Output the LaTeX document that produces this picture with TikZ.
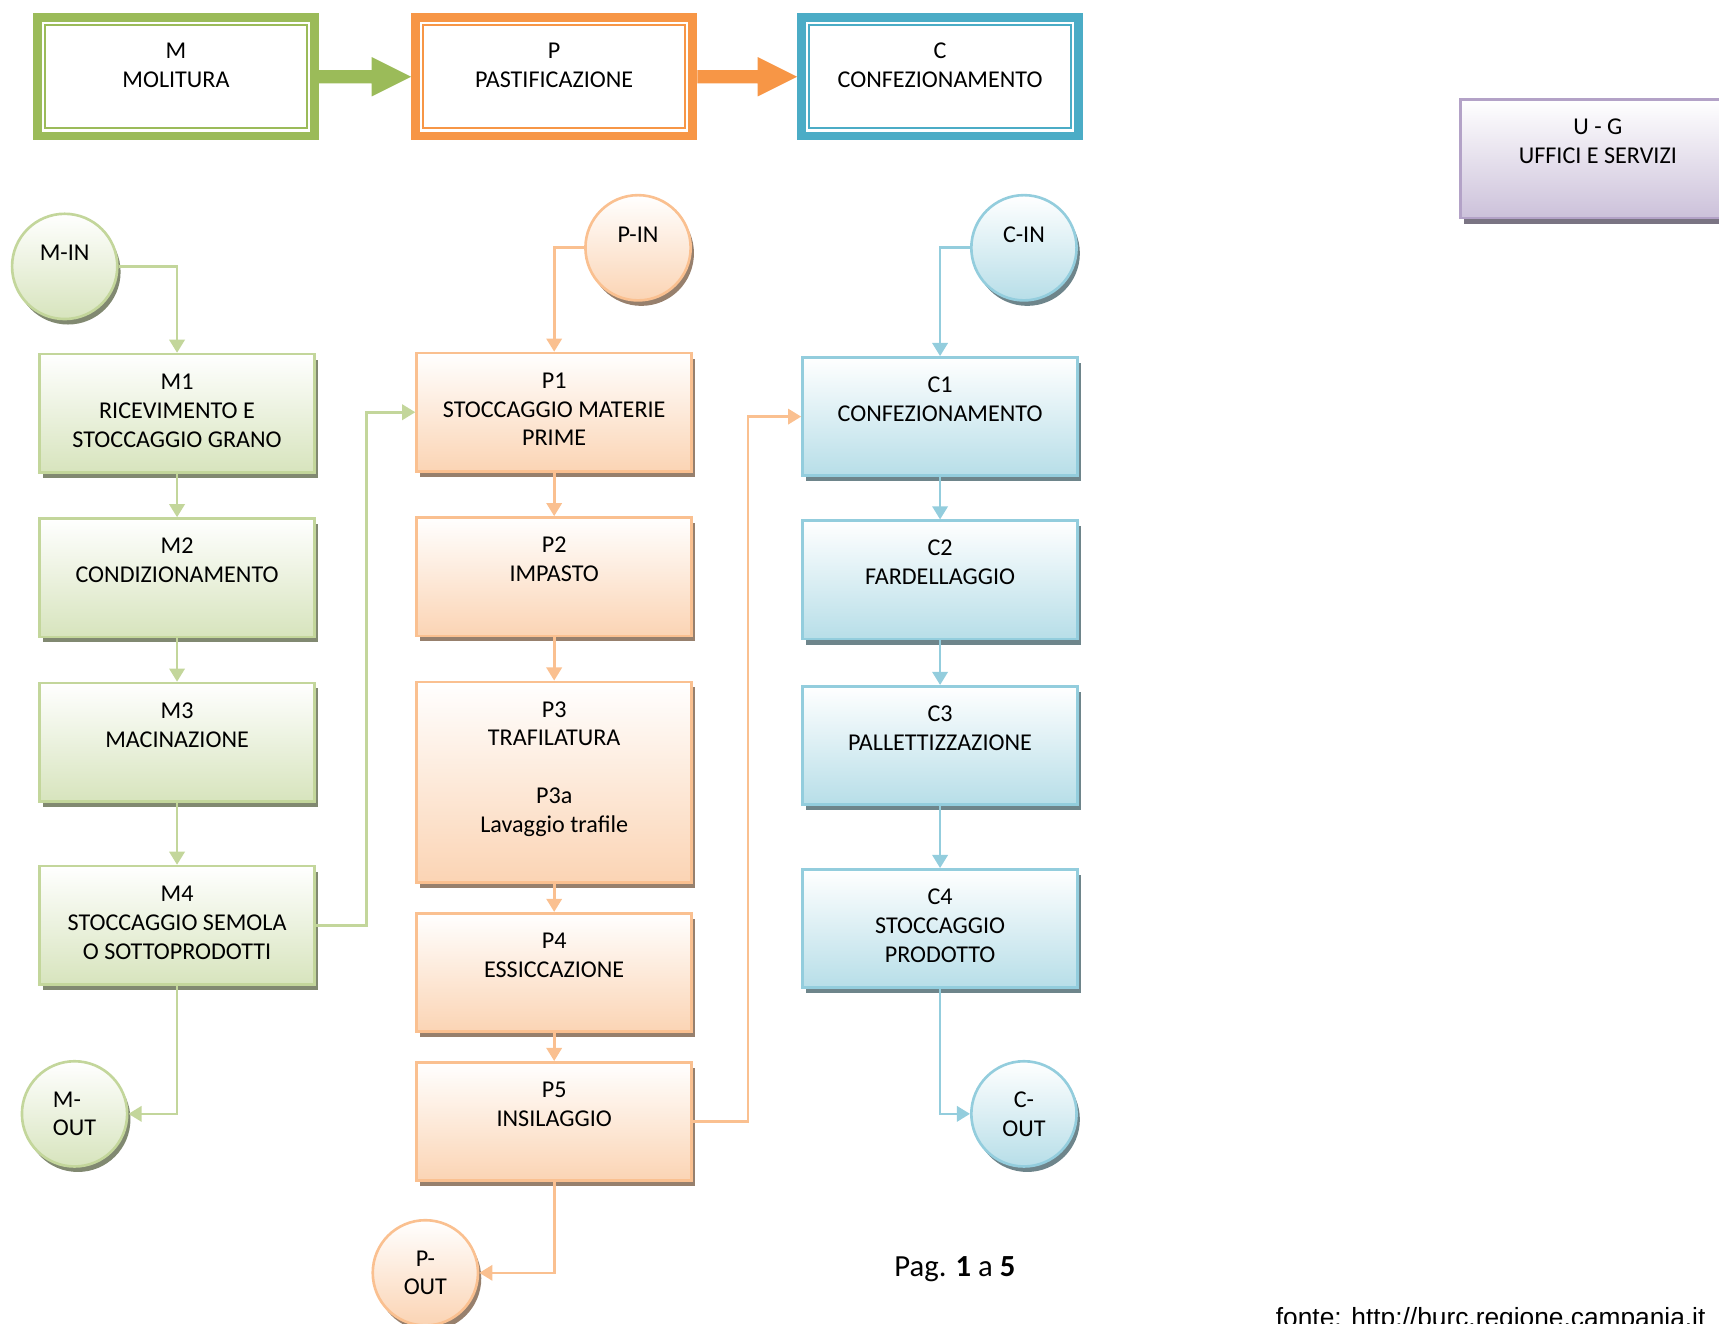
\documentclass[tikz,border=0pt]{standalone}
\usepackage{fontspec}
\setmainfont{Carlito}
\newfontfamily\arialf{Liberation Sans}
\usetikzlibrary{arrows.meta,calc,shadows}
\definecolor{mdark}{HTML}{9BBB59}
\definecolor{odark}{HTML}{F79646}
\definecolor{bdark}{HTML}{4BACC6}
\definecolor{mline}{HTML}{C3D69B}
\definecolor{oline}{HTML}{FAC090}
\definecolor{bline}{HTML}{93CDDD}
\definecolor{pline}{HTML}{B3A2C7}
\definecolor{mfill}{HTML}{D7E4BD}
\definecolor{ofill}{HTML}{FBD4B4}
\definecolor{bfill}{HTML}{B7DEE8}
\definecolor{pfill}{HTML}{CCC1DA}
\colorlet{msh}{mline!50!black}
\colorlet{osh}{oline!50!black}
\colorlet{bsh}{bline!50!black}
\colorlet{psh}{pline!50!black}
\newcommand{\myproc}[2][54pt]{\parbox[c][#1][t]{125.5pt}{\centering\rule{0pt}{16pt}#2}}
\newcommand{\mytop}[1]{\parbox[c][54pt][t]{126.5pt}{\centering\rule{0pt}{18.5pt}#1}}
\begin{document}
\begin{tikzpicture}[x=0.5pt,y=-0.5pt,font=\fontsize{11}{13.2}\selectfont,
  topbox/.style={draw=#1, line width=4pt, fill=white, inner sep=0pt, minimum width=126.5pt, minimum height=54pt},
  procbase/.style={inner sep=0pt, line width=1.2pt},
  mproc/.style={procbase, draw=mline, top color=white, bottom color=mfill, drop shadow={shadow xshift=1.5pt, shadow yshift=-2.5pt, fill=msh, opacity=0.8}},
  oproc/.style={procbase, draw=oline, top color=white, bottom color=ofill, drop shadow={shadow xshift=1.5pt, shadow yshift=-2.5pt, fill=osh, opacity=0.8}},
  bproc/.style={procbase, draw=bline, top color=white, bottom color=bfill, drop shadow={shadow xshift=1.5pt, shadow yshift=-2.5pt, fill=bsh, opacity=0.8}},
  pproc/.style={procbase, draw=pline, top color=white, bottom color=pfill, drop shadow={shadow xshift=1.5pt, shadow yshift=-2.5pt, fill=psh, opacity=0.8}},
  circ/.style={circle, minimum size=48pt},
  intext/.style={text height=0pt, text depth=5pt},
  mcon/.style={draw=mline, line width=1.2pt, -{Triangle[length=6pt,width=7pt]}},
  ocon/.style={draw=oline, line width=1.2pt, -{Triangle[length=6pt,width=7pt]}},
  bcon/.style={draw=bline, line width=1.2pt, -{Triangle[length=6pt,width=7pt]}}
]
\useasboundingbox (0,0) rectangle (1568,1207);

% top boxes
\node[topbox=mdark] (TM) at (160.5,70) {\mytop{M\\MOLITURA}};
\node[topbox=odark] (TP) at (505.5,70) {\mytop{P\\PASTIFICAZIONE}};
\node[topbox=bdark] (TC) at (857.5,70) {\mytop{C\\CONFEZIONAMENTO}};
\draw[mdark, line width=1pt] ([shift={(5.5pt,-5.5pt)}]TM.north west) rectangle ([shift={(-5.5pt,5.5pt)}]TM.south east);
\draw[odark, line width=1pt] ([shift={(5.5pt,-5.5pt)}]TP.north west) rectangle ([shift={(-5.5pt,5.5pt)}]TP.south east);
\draw[bdark, line width=1pt] ([shift={(5.5pt,-5.5pt)}]TC.north west) rectangle ([shift={(-5.5pt,5.5pt)}]TC.south east);
\fill[mdark] ($(TM.east)+(0,-6)$) -- ($(TP.west)+(-36,-6)$) -- ($(TP.west)+(-36,-18)$) -- (TP.west) -- ($(TP.west)+(-36,18)$) -- ($(TP.west)+(-36,6)$) -- ($(TM.east)+(0,6)$) -- cycle;
\fill[odark] ($(TP.east)+(0,-6)$) -- ($(TC.west)+(-36,-6)$) -- ($(TC.west)+(-36,-18)$) -- (TC.west) -- ($(TC.west)+(-36,18)$) -- ($(TC.west)+(-36,6)$) -- ($(TP.east)+(0,6)$) -- cycle;

% U-G
\node[pproc] (UG) at (1457.5,145) {\myproc{U - G\\UFFICI E SERVIZI}};

% M column
\node[mproc] (M1) at (161.5,377) {\myproc{M1\\RICEVIMENTO E\\STOCCAGGIO GRANO}};
\node[mproc] (M2) at (161.5,527) {\myproc{M2\\CONDIZIONAMENTO}};
\node[mproc] (M3) at (161.5,677) {\myproc{M3\\MACINAZIONE}};
\node[mproc] (M4) at (161.5,844) {\myproc{M4\\STOCCAGGIO SEMOLA\\O SOTTOPRODOTTI}};
\node[mproc, circ, intext] (MIN) at (59,243) {M-IN};
\node[mproc, circ, align=left] (MOUT) at (68,1016) {M-\\OUT};

% P column
\node[oproc] (P1) at (505.5,376) {\myproc{P1\\STOCCAGGIO MATERIE\\PRIME}};
\node[oproc] (P2) at (505.5,526) {\myproc{P2\\IMPASTO}};
\node[oproc] (P3) at (505.5,713.5) {\myproc[91.5pt]{P3\\TRAFILATURA\\[13.2pt]P3a\\Lavaggio trafile}};
\node[oproc] (P4) at (505.5,887) {\myproc{P4\\ESSICCAZIONE}};
\node[oproc] (P5) at (505.5,1023) {\myproc{P5\\INSILAGGIO}};
\node[oproc, circ, intext] (PIN) at (582,226) {P-IN};
\node[oproc, circ, align=center] (POUT) at (388,1161) {P-\\OUT};

% C column
\node[bproc] (C1) at (857.5,380) {\myproc{C1\\CONFEZIONAMENTO}};
\node[bproc] (C2) at (857.5,529) {\myproc{C2\\FARDELLAGGIO}};
\node[bproc] (C3) at (857.5,680) {\myproc{C3\\PALLETTIZZAZIONE}};
\node[bproc] (C4) at (857.5,847) {\myproc{C4\\STOCCAGGIO\\PRODOTTO}};
\node[bproc, circ, intext] (CIN) at (934,226) {C-IN};
\node[bproc, circ, align=center] (COUT) at (934,1016) {C-\\OUT};

% connectors
\draw[mcon] (MIN.east) -| (M1.north);
\draw[mcon] (M1) -- (M2);
\draw[mcon] (M2) -- (M3);
\draw[mcon] (M3) -- (M4);
\draw[mcon] (M4.south) |- (MOUT.east);
\draw[mcon] (M4.east) -- ++(46,0) |- (P1.west);

\draw[ocon] (PIN.west) -| (P1.north);
\draw[ocon] (P1) -- (P2);
\draw[ocon] (P2) -- (P3);
\draw[ocon] (P3) -- (P4);
\draw[ocon] (P4) -- (P5);
\draw[ocon] (P5.south) |- (POUT.east);
\draw[ocon] (P5.east) -- ++(50,0) |- (C1.west);

\draw[bcon] (CIN.west) -| (C1.north);
\draw[bcon] (C1) -- (C2);
\draw[bcon] (C2) -- (C3);
\draw[bcon] (C3) -- (C4);
\draw[bcon] (C4.south) |- (COUT.west);

% page text
\node[font=\fontsize{14}{16}\selectfont] (PAG) at (871,1158) {Pag. \textbf{1} a \textbf{5}};
\node[font=\arialf\fontsize{12}{14}\selectfont, anchor=base east, inner sep=0pt] (FONTE) at (1556,1210) {fonte: http://burc.regione.campania.it};
\end{tikzpicture}
\end{document}
